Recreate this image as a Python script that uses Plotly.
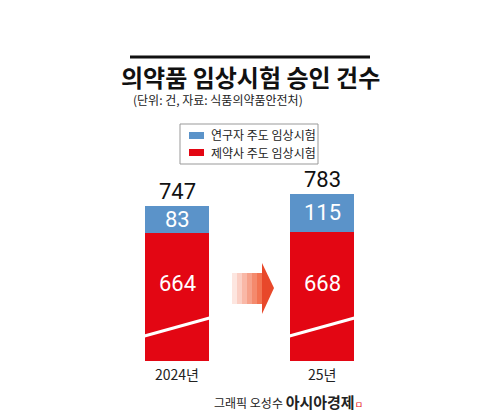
import plotly.graph_objects as go

years = ["2024년", "25년"]
sponsor = [664, 668]
investigator = [83, 115]
totals = [747, 783]

W, H = 500, 411
OFF = 8
def py(p): return (H - p - OFF) / H
def px(p): return (p - OFF) / W
YMIN, YMAX = 272, 853
x_pos = [0, 1]
fig = go.Figure()
fig.add_bar(x=x_pos, y=sponsor, marker_color="#e30613", width=0.448, marker_line_width=0,
            name="제약사 주도 임상시험")
fig.add_bar(x=x_pos, y=investigator, marker_color="#5b93c9", width=0.448, marker_line_width=0,
            name="연구자 주도 임상시험")
vf = dict(color="white", size=22, family="Roboto")
for x, s, i, t in zip(x_pos, sponsor, investigator, totals):
    fig.add_annotation(x=x, y=(YMIN + s) / 2 + 40, text=str(s), showarrow=False, yanchor="middle", font=vf)
    fig.add_annotation(x=x, y=s + i / 2, text=str(i), showarrow=False, yanchor="middle", font=vf)
    fig.add_annotation(x=x, y=t, text=str(t), showarrow=False, yanchor="bottom", yshift=0,
                       font=dict(size=22, color="#111", family="Roboto"))
for x, lab in zip(x_pos, years):
    fig.add_annotation(x=x, y=py(358), yref="paper", text=lab, showarrow=False, yanchor="middle",
                       font=dict(size=14, color="#222", family="Noto Sans CJK KR"))
shapes = []
for x in x_pos:
    shapes.append(dict(type="line", x0=x - 0.224, x1=x + 0.224, yref="paper", y0=py(320), y1=py(302),
                       line=dict(color="white", width=3)))
xa = lambda p: (p - 177) / 145
n = 6
for i in range(n):
    a = 0.15 + 0.7 * i / (n - 1)
    shapes.append(dict(type="rect", x0=xa(232 + i * 5), x1=xa(237 + i * 5), yref="paper",
                       y0=py(288), y1=py(257), fillcolor=f"rgba(240,90,50,{a})", line_width=0))
shapes.append(dict(type="path", path=f"M {xa(262)},{py(247)} L {xa(274)},{py(272)} L {xa(262)},{py(298)} Z",
                   yref="paper", fillcolor="#e8482a", line_width=0))
shapes.append(dict(type="line", xref="paper", yref="paper", x0=px(130), x1=px(370), y0=py(41), y1=py(41),
                   line=dict(color="#111", width=3)))
shapes.append(dict(type="rect", xref="paper", yref="paper", x0=px(180), x1=px(318), y0=py(148), y1=py(108),
                   line=dict(color="#999", width=1), fillcolor="white"))
shapes.append(dict(type="rect", xref="paper", yref="paper", x0=px(189), x1=px(204), y0=py(123), y1=py(116),
                   fillcolor="#5b93c9", line_width=0))
shapes.append(dict(type="rect", xref="paper", yref="paper", x0=px(189), x1=px(204), y0=py(140), y1=py(133),
                   fillcolor="#e30613", line_width=0))
fig.update_layout(shapes=shapes)
for yy, t in [(119, "연구자 주도 임상시험"), (136, "제약사 주도 임상시험")]:
    fig.add_annotation(xref="paper", yref="paper", x=px(209), y=py(yy), text=t, showarrow=False,
                       xanchor="left", yanchor="middle", font=dict(size=12, color="#222", family="Noto Sans CJK KR"))
fig.add_annotation(xref="paper", yref="paper", x=px(250), y=py(60), text="<b>의약품 임상시험 승인 건수</b>",
                   showarrow=False, yanchor="middle", font=dict(size=24, color="#111", family="Noto Sans CJK KR"))
fig.add_annotation(xref="paper", yref="paper", x=px(131), y=py(84), text="(단위: 건, 자료: 식품의약품안전처)",
                   showarrow=False, xanchor="left", yanchor="middle", font=dict(size=12, color="#222", family="Noto Sans CJK KR"))
fig.add_annotation(xref="paper", yref="paper", x=px(365), y=py(385),
                   text="그래픽 오성수 <b><span style='font-size:15px'>아시아경제</span></b><span style='color:#e30613;font-size:9px'>ㅁ</span>",
                   showarrow=False, xanchor="right", yanchor="middle", font=dict(size=12, color="#222", family="Noto Sans CJK KR"))
fig.update_layout(width=W, height=H, margin=dict(l=0, r=0, t=0, b=0), barmode="stack",
                  plot_bgcolor="white", paper_bgcolor="white", showlegend=False,
                  xaxis=dict(range=[-(177 - OFF) / 145, (500 - 177 + OFF) / 145], visible=False, domain=[0, 1]),
                  yaxis=dict(range=[YMIN, YMAX], visible=False, domain=[py(345), py(155)]))
fig.write_html("out.html")
